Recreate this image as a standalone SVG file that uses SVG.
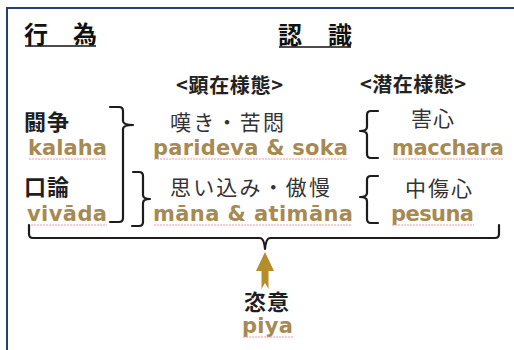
<svg xmlns="http://www.w3.org/2000/svg" width="514" height="350" viewBox="0 0 514 350">
<style>
.jp{font-family:"Noto Sans CJK JP","Noto Sans CJK SC",sans-serif;fill:#1e1e1e}
.b{font-weight:bold}
.t{font-size:24px;font-weight:bold;fill:#111}
.h{font-size:20px;font-weight:bold;fill:#222}
.k{font-size:22px}
.r{font-size:21px;fill:#333}
.p{font-family:"DejaVu Sans",Verdana,sans-serif;font-weight:bold;font-size:21px;fill:#a68a52}
.br{fill:none;stroke:#1c1c1c;stroke-width:2.2;stroke-linecap:round;stroke-linejoin:round}
.sq{stroke:#ee9aa6;stroke-width:1;stroke-dasharray:2 1}
.ul{stroke:#111;stroke-width:1.6}
</style>
<rect width="514" height="350" fill="#ffffff"/>
<path d="M7,352 V8 H516" fill="none" stroke="#24406e" stroke-width="2"/>

<g id="title-action">
<text class="jp t" x="24" y="43" textLength="73" lengthAdjust="spacing">行　為</text>
<line class="ul" x1="25" y1="46" x2="96" y2="46"/>
</g>
<g id="title-cognition">
<text class="jp t" x="278" y="44" textLength="74" lengthAdjust="spacing">認　識</text>
<line class="ul" x1="279" y1="47" x2="351" y2="47"/>
</g>
<g id="head-manifest">
<text class="jp h" x="176" y="93" textLength="107" lengthAdjust="spacing">&lt;顕在様態&gt;</text>
</g>
<g id="head-latent">
<text class="jp h" x="360" y="92" textLength="106" lengthAdjust="spacing">&lt;潜在様態&gt;</text>
</g>

<g id="node-kalaha">
<text class="jp k b" x="24" y="130" textLength="45" lengthAdjust="spacing">闘争</text>
<text class="p" x="28" y="155" textLength="79" lengthAdjust="spacing">kalaha</text>
<line class="sq" x1="29" y1="159" x2="107" y2="159"/>
</g>
<g id="node-vivada">
<text class="jp k b" x="24" y="195" textLength="45" lengthAdjust="spacing">口論</text>
<text class="p" x="27" y="221" textLength="80" lengthAdjust="spacing">vivāda</text>
<line class="sq" x1="28" y1="225" x2="107" y2="225"/>
</g>
<g id="node-parideva">
<text class="jp r" x="170" y="130" textLength="114" lengthAdjust="spacing">嘆き・苦悶</text>
<text class="p" x="153" y="155" textLength="195" lengthAdjust="spacing">parideva &amp; soka</text>
<line class="sq" x1="154" y1="159" x2="347" y2="159"/>
</g>
<g id="node-mana">
<text class="jp r" x="170" y="195" textLength="160" lengthAdjust="spacing">思い込み・傲慢</text>
<text class="p" x="153" y="221" textLength="200" lengthAdjust="spacing">māna &amp; atimāna</text>
<line class="sq" x1="154" y1="225" x2="352" y2="225"/>
</g>
<g id="node-macchara">
<text class="jp r" x="411" y="126" textLength="43" lengthAdjust="spacing">害心</text>
<text class="p" x="392" y="155" textLength="112" lengthAdjust="spacing">macchara</text>
<line class="sq" x1="393" y1="159" x2="503" y2="159"/>
</g>
<g id="node-pesuna">
<text class="jp r" x="405" y="196" textLength="67" lengthAdjust="spacing">中傷心</text>
<text class="p" x="391" y="221" textLength="83" lengthAdjust="spacing">pesuna</text>
<line class="sq" x1="392" y1="225" x2="474" y2="225"/>
</g>
<g id="node-piya">
<text class="jp k b" x="244" y="310" textLength="45" lengthAdjust="spacing">恣意</text>
<text class="p" x="242" y="333" textLength="51" lengthAdjust="spacing">piya</text>
<line class="sq" x1="243" y1="337" x2="293" y2="337"/>
</g>

<g id="connectors">
<path class="br" d="M110,107 H119 Q123,107 123,111 V121 Q123,125 133,125 Q123,125 123,129 V218 Q123,222 119,222 H110"/>
<path class="br" d="M133,172 H139 Q143,172 143,176 V195 Q143,199 150,199 Q143,199 143,203 V222 Q143,226 139,226 H132"/>
<path class="br" d="M378,111 H371 Q367,111 367,115 V127 Q367,131 360,131 Q367,131 367,135 V154 Q367,158 371,158 H378"/>
<path class="br" d="M378,176 H371 Q367,176 367,180 V193 Q367,197 360,197 Q367,197 367,201 V219 Q367,223 371,223 H378"/>
<path class="br" d="M29,225 V234 Q29,238 33,238 H260 Q264,238 265,249 Q266,238 270,238 H495 Q499,238 499,234 V225"/>
<polygon points="265,252 274,271 268.5,271 268.5,289 265,283 261.5,289 261.5,271 256,271" fill="#b58d2c"/>
</g>
</svg>
